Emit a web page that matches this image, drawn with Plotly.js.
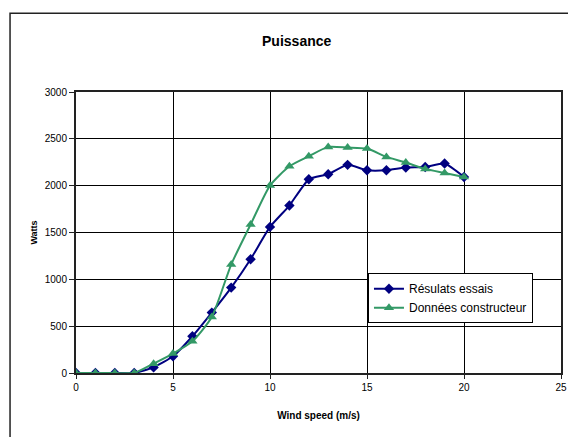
<!DOCTYPE html>
<html>
<head>
<meta charset="utf-8">
<script src="https://cdn.plot.ly/plotly-3.0.1.min.js"></script>
<style>
html,body{margin:0;padding:0;background:#fff;}
#chart{width:568px;height:437px;}
</style>
</head>
<body>
<div id="chart"></div>
<script>
const windSpeed = [0,1,2,3,4,5,6,7,8,9,10,11,12,13,14,15,16,17,18,19,20];
const resultatsEssais = [0,0,0,0,60,178,392,645,912,1215,1560,1788,2068,2122,2222,2165,2165,2193,2200,2236,2093];
const donneesConstructeur = [0,0,0,0,100,207,338,598,1158,1585,2001,2207,2314,2414,2407,2396,2307,2247,2179,2136,2093];
const xTicks = [0,5,10,15,20,25];
const yTicks = [0,500,1000,1500,2000,2500,3000];

const traces = [
  {
    x: windSpeed, y: resultatsEssais, name: 'Résulats essais',
    type: 'scatter', mode: 'lines+markers',
    line: {color: '#000080', width: 2, shape: 'spline', smoothing: 0.5},
    marker: {symbol: 'diamond', size: 8, color: '#000080'}
  },
  {
    x: windSpeed, y: donneesConstructeur, name: 'Données constructeur',
    type: 'scatter', mode: 'lines+markers',
    line: {color: '#339966', width: 2, shape: 'spline', smoothing: 0.6},
    marker: {symbol: 'triangle-up', size: 9, color: '#339966'}
  }
];

const layout = {
  width: 568, height: 437,
  margin: {l: 76, r: 7, t: 92, b: 64},
  paper_bgcolor: '#fff', plot_bgcolor: '#fff',
  font: {family: 'Liberation Sans, Arial, sans-serif', color: '#000', size: 10},
  title: {text: '<b>Puissance</b>', font: {size: 14}, x: 0.455, xref: 'paper', xanchor: 'center', y: 0.905, yanchor: 'middle'},
  showlegend: true,
  legend: {
    x: 0.602, y: 0.355, xanchor: 'left', yanchor: 'top',
    bgcolor: '#fff', bordercolor: '#000', borderwidth: 1,
    font: {size: 12}, tracegroupgap: 2
  },
  xaxis: {
    range: [0, 25], tickvals: xTicks, ticktext: xTicks.map(String),
    showgrid: true, gridcolor: '#000', gridwidth: 1,
    showline: true, linecolor: '#222', linewidth: 2, mirror: true,
    ticks: 'outside', ticklen: 4, tickcolor: '#222',
    zeroline: false, tickfont: {size: 10},
    title: {text: '<b>Wind speed (m/s)</b>', font: {size: 10}, standoff: 20}
  },
  yaxis: {
    range: [0, 3000], tickvals: yTicks, ticktext: yTicks.map(String),
    showgrid: true, gridcolor: '#000', gridwidth: 1,
    showline: true, linecolor: '#222', linewidth: 2, mirror: true,
    ticks: 'outside', ticklen: 5, tickcolor: '#222',
    zeroline: false, tickfont: {size: 10},
    title: {text: '<b>Watts</b>', font: {size: 9}, standoff: 6}
  },
  shapes: [
    {type: 'rect', xref: 'paper', yref: 'paper', x0: -0.136, x1: 1.2, y0: -0.4, y1: 1.28,
     line: {color: '#222', width: 1.5}, fillcolor: 'rgba(0,0,0,0)', layer: 'below'}
  ]
};

Plotly.newPlot('chart', traces, layout, {displayModeBar: false, staticPlot: true});
</script>
</body>
</html>
